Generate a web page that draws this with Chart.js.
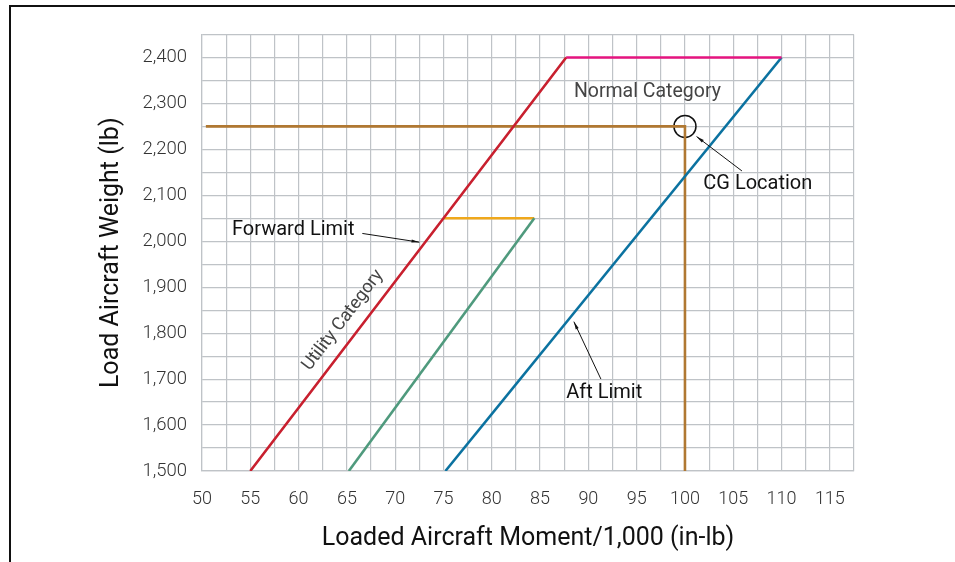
<!DOCTYPE html>
<html>
<head>
<meta charset="utf-8">
<script src="https://cdn.jsdelivr.net/npm/chart.js@4.4.1/dist/chart.umd.min.js"></script>
<style>
  body { margin: 0; background: #fff; }
  #wrap { position: relative; width: 955px; height: 562px; }
  #frame { position: absolute; left: 9px; top: 5px; right: 0; bottom: 0;
           border-top: 2px solid #111; border-left: 2px solid #111; pointer-events: none; }
</style>
</head>
<body>
<div id="wrap">
  <canvas id="graf" width="955" height="562"></canvas>
  <div id="frame"></div>
</div>
<script>
// tick labels
const xTicks = [50, 55, 60, 65, 70, 75, 80, 85, 90, 95, 100, 105, 110, 115]
const yTicks = [1500, 1600, 1700, 1800, 1900, 2000, 2100, 2200, 2300, 2400]

// envelope lines (moment/1000, weight)
const fwdX = [55, 75, 87.7]
const fwdY = [1500, 2050, 2400]
const normX = [87.7, 110]
const normY = [2400, 2400]
const aftX = [75.2, 110]
const aftY = [1500, 2400]
const utilX = [65.2, 84.4]
const utilY = [1500, 2050]
const utilTopX = [75, 84.4]
const utilTopY = [2050, 2050]
const cgX = [50.4, 100, 100]
const cgY = [2250, 2250, 1500]
const cgPointX = [100]
const cgPointY = [2250]

// labels and arrows, in data units
const labelText = ['Normal Category', 'CG Location', 'Forward Limit', 'Aft Limit']
const labelX = [88.5, 101.9, 53.1, 87.7]
const labelY = [2324, 2124, 2024, 1670]
const labelColor = ['#444', '#111', '#111', '#111']
const labelSize = [19.5, 20, 20, 20]
const arrowFromX = [105.9, 66.6, 91.3]
const arrowFromY = [2153, 2017, 1700]
const arrowToX = [101.2, 72.5, 88.5]
const arrowToY = [2228, 1998, 1825]

const pts = (xs, ys) => xs.map((x, i) => ({ x: x, y: ys[i] }))

const line = (xs, ys, color) => ({
    data: pts(xs, ys),
    showLine: true,
    borderColor: color,
    borderWidth: 2.6,
    pointRadius: 0,
    fill: false
})

const notes = {
    id: 'notes',
    afterDatasetsDraw(chart) {
        const ctx = chart.ctx
        const sx = chart.scales.x
        const sy = chart.scales.y
        ctx.save()
        ctx.textBaseline = 'middle'
        ctx.textAlign = 'left'
        labelText.forEach((t, i) => {
            ctx.font = labelSize[i] + 'px Roboto'
            ctx.fillStyle = labelColor[i]
            ctx.fillText(t, sx.getPixelForValue(labelX[i]), sy.getPixelForValue(labelY[i]))
        })

        ctx.strokeStyle = '#111'
        ctx.fillStyle = '#111'
        ctx.lineWidth = 1
        arrowFromX.forEach((fx, i) => {
            const x1 = sx.getPixelForValue(fx)
            const y1 = sy.getPixelForValue(arrowFromY[i])
            const x2 = sx.getPixelForValue(arrowToX[i])
            const y2 = sy.getPixelForValue(arrowToY[i])
            const a = Math.atan2(y2 - y1, x2 - x1)
            ctx.beginPath()
            ctx.moveTo(x1, y1)
            ctx.lineTo(x2, y2)
            ctx.stroke()
            ctx.beginPath()
            ctx.moveTo(x2, y2)
            ctx.lineTo(x2 - 8 * Math.cos(a - 0.2), y2 - 8 * Math.sin(a - 0.2))
            ctx.lineTo(x2 - 8 * Math.cos(a + 0.2), y2 - 8 * Math.sin(a + 0.2))
            ctx.closePath()
            ctx.fill()
        })

        // Utility Category along the forward limit line
        const p1x = sx.getPixelForValue(fwdX[0]), p1y = sy.getPixelForValue(fwdY[0])
        const p2x = sx.getPixelForValue(fwdX[1]), p2y = sy.getPixelForValue(fwdY[1])
        const ang = Math.atan2(p2y - p1y, p2x - p1x)
        ctx.translate(sx.getPixelForValue(64.6), sy.getPixelForValue(1828))
        ctx.rotate(ang)
        ctx.textAlign = 'center'
        ctx.fillStyle = '#444'
        ctx.font = '18px Roboto'
        ctx.fillText('Utility Category', 0, 0)
        ctx.restore()
    }
}

const graf = document.getElementById('graf')

new Chart(graf, {
    type: 'scatter',
    data: {
        datasets: [
            line(fwdX, fwdY, '#c8202f'),
            line(normX, normY, '#e5147f'),
            line(aftX, aftY, '#0b72a0'),
            line(utilX, utilY, '#4f9a7d'),
            line(utilTopX, utilTopY, '#efa81c'),
            line(cgX, cgY, '#b07832'),
            {
                data: pts(cgPointX, cgPointY),
                pointRadius: 11,
                pointBorderWidth: 1.5,
                pointBorderColor: '#111',
                pointBackgroundColor: 'rgba(0,0,0,0)'
            }
        ]
    },
    options: {
        responsive: false,
        animation: false,
        layout: { padding: { top: 34.5, right: 101, left: 0, bottom: 0 } },
        plugins: { legend: { display: false }, tooltip: { enabled: false } },
        scales: {
            x: {
                type: 'linear',
                min: 50,
                max: 117.5,
                afterFit: s => { s.height = 91 },
                grid: { color: '#bfc3c7', lineWidth: 1.2, drawTicks: false },
                border: { color: '#bfc3c7', width: 1.2 },
                ticks: {
                    stepSize: 2.5,
                    autoSkip: false,
                    maxRotation: 0,
                    padding: 18,
                    color: '#333',
                    font: { family: 'Roboto', size: 18, weight: 300 },
                    callback: v => xTicks.includes(v) ? String(v) : ''
                },
                title: {
                    display: true,
                    text: 'Loaded Aircraft Moment/1,000 (in-lb)',
                    color: '#111',
                    font: { family: 'Roboto', size: 25 },
                    padding: { top: 0, bottom: 8 }
                }
            },
            y: {
                type: 'linear',
                min: 1500,
                max: 2450,
                afterFit: s => { s.width = 202 },
                grid: { color: '#bfc3c7', lineWidth: 1.2, drawTicks: false },
                border: { color: '#bfc3c7', width: 1.2 },
                ticks: {
                    stepSize: 50,
                    autoSkip: false,
                    padding: 15,
                    color: '#333',
                    font: { family: 'Roboto', size: 18.5, weight: 300 },
                    callback: v => yTicks.includes(v) ? v.toLocaleString('en-US') : ''
                },
                title: {
                    display: true,
                    text: 'Load Aircraft Weight (lb)',
                    color: '#111',
                    font: { family: 'Roboto', size: 25 },
                    padding: { top: 97, bottom: 0 }
                }
            }
        }
    },
    plugins: [notes]
})
</script>
</body>
</html>
